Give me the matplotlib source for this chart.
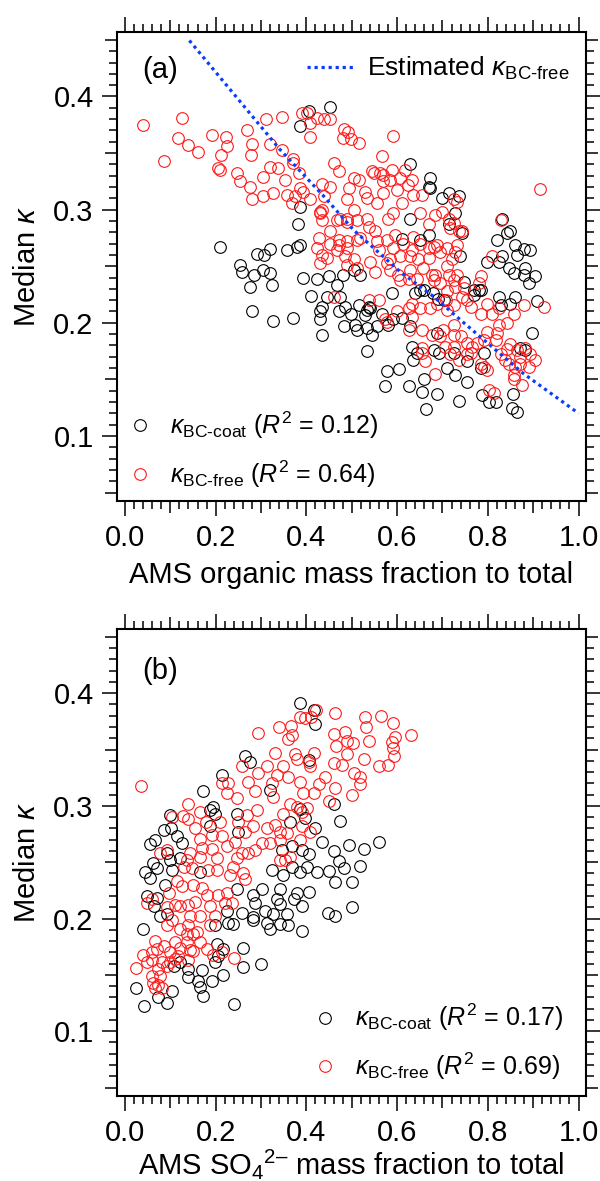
import matplotlib
matplotlib.use("Agg")
import matplotlib.pyplot as plt
from matplotlib.ticker import FixedLocator, FuncFormatter
from matplotlib.lines import Line2D

plt.rcParams['font.family'] = ['Liberation Sans', 'DejaVu Sans']
plt.rcParams['mathtext.fontset'] = 'custom'
plt.rcParams['mathtext.rm'] = 'Liberation Sans'
plt.rcParams['mathtext.it'] = 'Liberation Sans:italic'
plt.rcParams['mathtext.bf'] = 'Liberation Sans:bold'

# ---------------- Panel (a): organic mass fraction ----------------
a_coat = [
 (0.405,0.387),(0.453,0.391),(0.386,0.374),
 (0.629,0.340),(0.673,0.328),(0.670,0.320),(0.699,0.310),(0.714,0.315),(0.736,0.312),(0.728,0.297),(0.629,0.292),
 (0.386,0.302),(0.381,0.287),(0.386,0.269),(0.379,0.267),(0.357,0.264),(0.319,0.265),(0.307,0.260),(0.290,0.261),
 (0.210,0.267),(0.254,0.251),(0.257,0.245),(0.285,0.242),(0.305,0.247),(0.320,0.244),(0.276,0.232),(0.324,0.233),
 (0.392,0.240),(0.423,0.239),(0.449,0.241),(0.481,0.242),(0.467,0.233),(0.410,0.224),(0.445,0.223),(0.486,0.214),
 (0.515,0.216),(0.434,0.214),(0.430,0.210),(0.471,0.210),(0.498,0.208),(0.567,0.208),(0.589,0.226),(0.611,0.274),
 (0.650,0.273),(0.670,0.278),(0.739,0.259),(0.747,0.236),(0.769,0.229),(0.798,0.254),(0.824,0.254),(0.831,0.259),
 (0.843,0.279),(0.850,0.281),(0.821,0.273),(0.831,0.292),(0.861,0.269),(0.879,0.265),(0.894,0.264),(0.865,0.260),
 (0.846,0.248),(0.857,0.244),(0.883,0.248),(0.879,0.242),(0.905,0.241),(0.890,0.235),(0.824,0.223),(0.861,0.223),
 (0.850,0.217),(0.908,0.219),(0.280,0.210),(0.327,0.202),(0.370,0.204),(0.640,0.226),(0.680,0.226),(0.592,0.203),
 (0.434,0.189),(0.482,0.197),(0.508,0.198),(0.511,0.194),(0.533,0.195),(0.544,0.189),(0.556,0.197),(0.581,0.198),
 (0.533,0.175),(0.578,0.157),(0.605,0.159),(0.574,0.144),(0.626,0.144),(0.660,0.150),(0.655,0.139),(0.688,0.137),
 (0.664,0.124),(0.736,0.131),(0.710,0.160),(0.728,0.154),(0.754,0.148),(0.787,0.136),(0.802,0.130),(0.817,0.130),
 (0.856,0.137),(0.853,0.125),(0.865,0.121),(0.898,0.191),(0.633,0.179),(0.636,0.167),(0.681,0.176),(0.692,0.173),
 (0.725,0.173),(0.754,0.166),(0.784,0.160),(0.872,0.178),
 (0.540,0.213),(0.530,0.207),(0.660,0.229),(0.690,0.221),(0.770,0.225),(0.780,0.229),
 (0.504,0.247),(0.519,0.242),(0.475,0.223),(0.537,0.214),(0.533,0.211),(0.743,0.279),(0.714,0.287),(0.651,0.229),
 (0.703,0.220),(0.611,0.204),(0.784,0.229),(0.828,0.216),(0.673,0.319),
 (0.430,0.203),(0.644,0.173),(0.791,0.173),(0.883,0.176),(0.629,0.197),(0.688,0.191),
]
a_free = [
 (0.040,0.375),(0.125,0.381),(0.118,0.363),(0.140,0.357),(0.160,0.351),(0.085,0.343),(0.191,0.366),(0.223,0.364),
 (0.224,0.356),(0.211,0.348),(0.270,0.370),(0.280,0.358),(0.278,0.348),(0.311,0.380),(0.346,0.382),(0.320,0.358),
 (0.346,0.353),(0.390,0.385),(0.402,0.385),(0.407,0.377),(0.423,0.381),(0.438,0.380),(0.453,0.380),(0.408,0.364),
 (0.482,0.371),(0.491,0.369),(0.481,0.363),(0.498,0.362),(0.517,0.359),(0.591,0.365),(0.567,0.347),(0.370,0.345),
 (0.206,0.337),(0.210,0.335),(0.248,0.332),(0.254,0.325),(0.276,0.320),(0.280,0.309),(0.305,0.329),(0.305,0.312),
 (0.327,0.315),(0.320,0.338),(0.338,0.337),(0.352,0.326),(0.357,0.313),(0.368,0.306),(0.375,0.312),(0.386,0.319),
 (0.393,0.316),(0.383,0.332),(0.371,0.341),(0.408,0.309),(0.430,0.297),(0.438,0.312),(0.434,0.323),(0.453,0.320),
 (0.460,0.341),(0.471,0.334),(0.493,0.319),(0.504,0.328),(0.515,0.326),(0.530,0.316),(0.533,0.310),(0.545,0.334),
 (0.563,0.332),(0.570,0.325),(0.585,0.326),(0.589,0.335),(0.607,0.328),(0.600,0.317),(0.618,0.335),(0.633,0.326),
 (0.636,0.313),(0.655,0.313),(0.651,0.297),(0.611,0.306),(0.592,0.297),(0.570,0.315),(0.489,0.309),(0.504,0.300),
 (0.475,0.292),(0.489,0.289),(0.511,0.291),(0.533,0.292),(0.537,0.285),(0.552,0.281),(0.519,0.275),(0.511,0.273),
 (0.581,0.292),(0.596,0.278),(0.578,0.273),(0.592,0.266),(0.614,0.270),(0.633,0.264),(0.629,0.259),(0.647,0.256),
 (0.670,0.287),(0.684,0.295),(0.699,0.298),(0.714,0.292),(0.725,0.288),(0.736,0.281),(0.743,0.281),(0.732,0.307),
 (0.717,0.284),(0.688,0.269),(0.670,0.266),(0.695,0.263),(0.710,0.266),(0.732,0.269),(0.728,0.263),(0.721,0.256),
 (0.670,0.257),(0.658,0.248),(0.677,0.242),(0.710,0.250),(0.714,0.242),(0.732,0.242),(0.728,0.232),(0.747,0.231),
 (0.743,0.223),(0.784,0.241),(0.780,0.235),(0.809,0.259),(0.828,0.291),(0.916,0.318),(0.879,0.216),(0.923,0.214),
 (0.857,0.208),(0.824,0.213),(0.798,0.217),(0.809,0.208),(0.784,0.208),(0.762,0.214),(0.754,0.220),(0.725,0.216),
 (0.710,0.211),(0.707,0.220),(0.688,0.217),(0.673,0.213),(0.651,0.213),(0.633,0.217),(0.626,0.213),(0.633,0.205),
 (0.600,0.210),(0.574,0.203),(0.559,0.220),(0.537,0.220),(0.460,0.223),(0.607,0.238),(0.626,0.239),(0.644,0.239),
 (0.629,0.247),(0.603,0.242),(0.585,0.247),(0.585,0.256),(0.552,0.245),(0.541,0.254),(0.511,0.248),(0.489,0.251),
 (0.486,0.259),(0.471,0.269),(0.453,0.270),(0.427,0.275),(0.423,0.266),(0.434,0.260),(0.430,0.253),(0.445,0.257),
 (0.467,0.264),(0.489,0.266),(0.504,0.256),(0.453,0.281),(0.471,0.273),(0.430,0.298),(0.434,0.291),(0.467,0.291),
 (0.556,0.272),(0.559,0.264),(0.607,0.259),(0.651,0.270),(0.636,0.276),(0.684,0.242),(0.725,0.238),
 (0.434,0.300),(0.625,0.322),(0.556,0.306),(0.725,0.309),(0.489,0.272),(0.681,0.267),(0.695,0.235),(0.681,0.238),
 (0.710,0.228),(0.548,0.332),(0.570,0.331),(0.578,0.253),(0.489,0.292),
 (0.578,0.201),(0.626,0.194),(0.655,0.194),(0.677,0.189),(0.695,0.188),(0.702,0.194),(0.725,0.198),(0.725,0.189),
 (0.740,0.188),(0.754,0.182),(0.765,0.179),(0.791,0.185),(0.798,0.192),(0.820,0.191),(0.824,0.198),(0.843,0.200),
 (0.817,0.185),(0.850,0.181),(0.865,0.176),(0.872,0.170),(0.883,0.178),(0.894,0.172),(0.905,0.167),(0.890,0.161),
 (0.861,0.161),(0.846,0.164),(0.828,0.172),(0.857,0.150),(0.875,0.145),(0.798,0.158),(0.784,0.164),(0.754,0.172),
 (0.736,0.167),(0.717,0.172),(0.655,0.178),(0.662,0.166),(0.684,0.155),(0.802,0.141),(0.813,0.138),
 (0.776,0.182),(0.843,0.177),(0.839,0.167),(0.857,0.154),(0.762,0.173),(0.725,0.179),(0.706,0.179),(0.655,0.173),
 (0.791,0.161),(0.872,0.164),
]
# estimated kappa_BC-free curve
est_x = [0.142, 0.342, 0.438, 0.504, 0.607, 0.681, 0.747, 0.879, 1.000]
est_y = [0.4495, 0.353, 0.312, 0.282, 0.245, 0.223, 0.200, 0.155, 0.120]

# ---------------- Panel (b): sulfate mass fraction ----------------
b_coat = [
 (0.385,0.391),(0.416,0.385),(0.420,0.373),(0.265,0.344),(0.276,0.339),(0.405,0.341),
 (0.213,0.327),(0.173,0.313),(0.195,0.299),(0.246,0.293),(0.099,0.292),(0.085,0.279),(0.114,0.273),(0.066,0.270),
 (0.055,0.266),(0.099,0.252),(0.062,0.249),(0.044,0.241),(0.055,0.236),(0.088,0.230),(0.070,0.218),(0.063,0.211),
 (0.077,0.202),(0.250,0.277),(0.320,0.314),(0.364,0.286),(0.397,0.289),(0.419,0.280),(0.434,0.268),(0.460,0.260),
 (0.471,0.251),(0.482,0.245),(0.495,0.265),(0.527,0.262),(0.519,0.247),(0.561,0.268),(0.473,0.287),(0.460,0.302),
 (0.423,0.241),(0.449,0.242),(0.405,0.257),(0.386,0.241),(0.349,0.239),(0.324,0.243),(0.463,0.232),(0.500,0.232),
 (0.500,0.210),(0.447,0.205),(0.463,0.202),(0.405,0.224),(0.379,0.223),(0.372,0.217),(0.390,0.211),(0.342,0.226),
 (0.335,0.217),(0.342,0.213),(0.357,0.204),(0.302,0.226),(0.283,0.221),(0.287,0.214),(0.309,0.207),(0.257,0.205),
 (0.283,0.201),(0.246,0.226),(0.224,0.207),
 (0.121,0.254),(0.166,0.241),(0.188,0.296),(0.199,0.293),(0.092,0.258),(0.070,0.245),(0.103,0.243),(0.048,0.220),
 (0.092,0.204),(0.125,0.267),(0.346,0.261),(0.368,0.264),(0.390,0.261),(0.401,0.246),(0.368,0.246),(0.327,0.204),
 (0.386,0.297),(0.101,0.280),(0.188,0.282),
 (0.040,0.191),(0.228,0.196),(0.313,0.196),(0.320,0.191),(0.342,0.195),(0.360,0.194),(0.390,0.189),(0.202,0.177),
 (0.261,0.174),(0.199,0.161),(0.261,0.157),(0.299,0.160),(0.217,0.150),(0.191,0.145),(0.169,0.154),(0.140,0.155),
 (0.138,0.148),(0.162,0.145),(0.166,0.139),(0.173,0.131),(0.103,0.136),(0.073,0.130),(0.092,0.125),(0.043,0.122),
 (0.024,0.138),(0.241,0.124),(0.217,0.173),(0.206,0.167),
 (0.199,0.194),(0.239,0.195),(0.283,0.199),(0.121,0.161),(0.107,0.158),
]
b_free = [
 (0.294,0.365),(0.339,0.370),(0.366,0.371),(0.368,0.363),(0.360,0.359),(0.385,0.379),(0.397,0.378),(0.410,0.379),
 (0.422,0.385),(0.464,0.382),(0.460,0.364),(0.486,0.366),(0.489,0.358),(0.503,0.356),(0.537,0.358),(0.465,0.353),
 (0.530,0.379),(0.531,0.370),(0.565,0.380),(0.590,0.374),(0.596,0.361),(0.589,0.357),(0.592,0.351),(0.594,0.344),
 (0.630,0.363),(0.331,0.347),(0.375,0.346),(0.416,0.347),(0.489,0.346),(0.526,0.342),(0.379,0.342),(0.405,0.339),
 (0.035,0.318),(0.140,0.302),(0.103,0.290),(0.129,0.291),(0.138,0.288),(0.166,0.295),(0.179,0.286),(0.155,0.280),
 (0.166,0.271),(0.191,0.274),(0.210,0.286),(0.224,0.311),(0.213,0.320),(0.246,0.307),(0.257,0.335),(0.272,0.321),
 (0.287,0.313),(0.294,0.329),(0.313,0.335),(0.324,0.320),(0.335,0.327),(0.349,0.335),(0.360,0.326),(0.386,0.321),
 (0.393,0.311),(0.408,0.335),(0.427,0.319),(0.441,0.326),(0.464,0.316),(0.416,0.311),(0.460,0.338),(0.478,0.336),
 (0.504,0.329),(0.518,0.326),(0.518,0.319),(0.500,0.310),(0.559,0.335),(0.579,0.336),(0.449,0.304),(0.401,0.298),
 (0.390,0.295),(0.349,0.293),(0.364,0.302),(0.327,0.308),(0.290,0.296),(0.268,0.292),(0.250,0.286),(0.265,0.277),
 (0.283,0.282),(0.313,0.280),(0.331,0.283),(0.357,0.276),(0.342,0.270),(0.320,0.267),(0.287,0.261),(0.272,0.258),
 (0.257,0.258),(0.246,0.254),(0.239,0.246),(0.224,0.264),(0.213,0.273),(0.243,0.268),(0.202,0.254),(0.202,0.243),
 (0.184,0.243),(0.166,0.255),(0.143,0.258),(0.136,0.252),(0.147,0.245),(0.114,0.233),(0.092,0.261),(0.077,0.258),
 (0.096,0.223),(0.121,0.211),(0.154,0.215),(0.151,0.230),(0.169,0.227),(0.180,0.221),(0.188,0.211),(0.224,0.223),
 (0.221,0.214),(0.235,0.214),(0.199,0.202),(0.048,0.214),(0.059,0.217),(0.092,0.210),(0.166,0.202),(0.261,0.240),
 (0.265,0.235),(0.364,0.255),(0.353,0.252),(0.386,0.270),(0.408,0.277),(0.228,0.320),
 (0.302,0.267),(0.232,0.239),(0.143,0.202),(0.110,0.212),(0.140,0.212),(0.125,0.229),(0.206,0.221),(0.169,0.263),
 (0.191,0.262),(0.130,0.246),(0.379,0.299),(0.390,0.282),(0.342,0.277),(0.342,0.252),
 (0.092,0.194),(0.121,0.191),(0.140,0.194),(0.136,0.186),(0.158,0.188),(0.066,0.180),(0.085,0.176),(0.110,0.179),
 (0.166,0.179),(0.040,0.168),(0.070,0.173),(0.099,0.170),(0.143,0.172),(0.180,0.173),(0.195,0.168),(0.213,0.170),
 (0.188,0.194),(0.241,0.165),(0.059,0.163),(0.081,0.161),(0.099,0.161),(0.140,0.163),(0.024,0.156),(0.073,0.155),
 (0.059,0.149),(0.062,0.143),(0.077,0.149),(0.073,0.141),(0.081,0.138),(0.066,0.138),
 (0.103,0.199),(0.121,0.174),(0.136,0.179),(0.151,0.171),(0.059,0.170),(0.118,0.167),(0.110,0.164),(0.048,0.161),
 (0.092,0.158),(0.151,0.186),
]

x_major = [0.0, 0.2, 0.4, 0.6, 0.8, 1.0]
y_major = [0.1, 0.2, 0.3, 0.4]
r2_a = ("0.12", "0.64")
r2_b = ("0.17", "0.69")

FS = 21
LFS = 18
RED = '#ff1a1a'
BLUE = '#0a3cff'

fig = plt.figure(figsize=(6.0, 11.81), dpi=100)
W, H = 600.0, 1181.0
ax1 = fig.add_axes([117/W, 1-501/H, 468.5/W, 469/H])
ax2 = fig.add_axes([117/W, 1-1096/H, 468.5/W, 467/H])

def style(ax):
    ax.set_xlim(-0.0176, 1.0154)
    ax.set_ylim(0.0425, 0.457)
    for s in ax.spines.values():
        s.set_linewidth(1.5)
    ax.xaxis.set_major_locator(FixedLocator(x_major))
    ax.yaxis.set_major_locator(FixedLocator(y_major))
    xm = [round(i*0.02, 2) for i in range(51) if round(i*0.02, 2) not in x_major]
    ym = [round(i*0.01, 2) for i in range(5, 46) if round(i*0.01, 2) not in y_major]
    ax.xaxis.set_minor_locator(FixedLocator(xm))
    ax.yaxis.set_minor_locator(FixedLocator(ym))
    ax.xaxis.set_major_formatter(FuncFormatter(lambda v, p: f"{v:.1f}"))
    ax.yaxis.set_major_formatter(FuncFormatter(lambda v, p: f"{v:.1f}"))
    ax.tick_params(which='both', direction='out', top=True, right=True, width=1.1)
    ax.tick_params(which='major', length=10.8, labelsize=FS)
    ax.tick_params(axis='x', which='major', pad=5.5)
    ax.tick_params(axis='y', which='major', pad=6)
    ax.tick_params(which='minor', length=6)
    ax.set_ylabel(r"Median $\kappa$", fontsize=FS, labelpad=9)

def medium_ticks(ax):
    # slightly longer minor ticks at 0.1 (x) and 0.05 (y)
    for t, v in zip(ax.xaxis.get_minor_ticks(), ax.xaxis.get_minorticklocs()):
        if abs(round(v*10) - v*10) < 1e-6:
            t.tick1line.set_markersize(8.4); t.tick2line.set_markersize(8.4)
    for t, v in zip(ax.yaxis.get_minor_ticks(), ax.yaxis.get_minorticklocs()):
        if abs(round(v*20) - v*20) < 1e-6:
            t.tick1line.set_markersize(8.4); t.tick2line.set_markersize(8.4)

mk = dict(ls='none', marker='o', ms=8.4, mfc='none', mew=0.8)
leg_kw = dict(frameon=False, fontsize=LFS, handlelength=0.9, handletextpad=0.75,
              labelspacing=0.69, borderpad=0, borderaxespad=0)

style(ax1)
ax1.plot([p[0] for p in a_coat], [p[1] for p in a_coat], mec='black', **mk)
ax1.plot([p[0] for p in a_free], [p[1] for p in a_free], mec=RED, **mk)
ax1.plot(est_x, est_y, color=BLUE, lw=2.3, ls=(0, (1, 1.2)), dash_capstyle='butt')
ax1.set_xlabel("AMS organic mass fraction to total", fontsize=FS, labelpad=7)
ax1.text(0.053, 0.919, "(a)", transform=ax1.transAxes, fontsize=FS, va='center', ha='left')
h1 = Line2D([], [], mec='black', **mk)
h2 = Line2D([], [], mec=RED, **mk)
lab1 = r"$\kappa_{\mathrm{BC\text{-}coat}}$ ($R^2$ = %s)" % r2_a[0]
lab2 = r"$\kappa_{\mathrm{BC\text{-}free}}$ ($R^2$ = %s)" % r2_a[1]
leg1 = ax1.legend([h1, h2], [lab1, lab2], loc='lower left', bbox_to_anchor=(0.025, 0.024), **leg_kw)
ax1.add_artist(leg1)
hl = Line2D([], [], color=BLUE, lw=2.3, ls=(0, (1, 1.2)), dash_capstyle='butt')
ax1.legend([hl], [r"Estimated $\kappa_{\mathrm{BC\text{-}free}}$"], loc='upper right',
           bbox_to_anchor=(0.967, 0.951), frameon=False, fontsize=19, handlelength=1.75,
           handletextpad=0.55, borderpad=0, borderaxespad=0)

style(ax2)
ax2.plot([p[0] for p in b_coat], [p[1] for p in b_coat], mec='black', **mk)
ax2.plot([p[0] for p in b_free], [p[1] for p in b_free], mec=RED, **mk)
ax2.set_xlabel("AMS SO$_4$$^{2\u2013}$ mass fraction to total", fontsize=FS, labelpad=0)
ax2.text(0.053, 0.909, "(b)", transform=ax2.transAxes, fontsize=FS, va='center', ha='left')
lab3 = r"$\kappa_{\mathrm{BC\text{-}coat}}$ ($R^2$ = %s)" % r2_b[0]
lab4 = r"$\kappa_{\mathrm{BC\text{-}free}}$ ($R^2$ = %s)" % r2_b[1]
ax2.legend([h1, h2], [lab3, lab4], loc='lower right', bbox_to_anchor=(0.952, 0.03), **leg_kw)

fig.canvas.draw()
medium_ticks(ax1)
medium_ticks(ax2)
fig.savefig("out.png", dpi=100)
